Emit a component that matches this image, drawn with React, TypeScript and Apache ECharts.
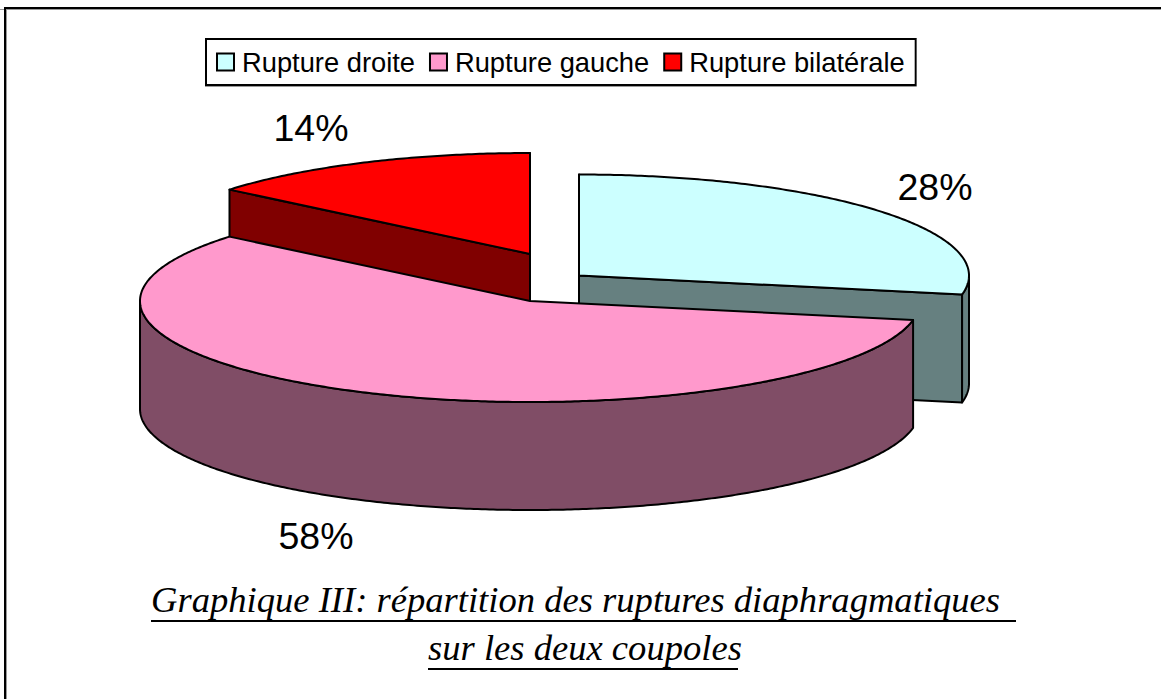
import React, { useEffect, useRef } from "react";
import * as echarts from "echarts";

const categories = ["Rupture droite", "Rupture gauche", "Rupture bilatérale"];
const values = [28, 58, 14];
const topColors = ["#CCFFFF", "#FF99CC", "#FF0000"];
const wallColors = ["#668080", "#804D66", "#800000"];
const titleLines = ["Graphique III: répartition des ruptures diaphragmatiques ", "sur les deux coupoles"];

const W = 1161;
const H = 699;
const RX = 390;
const RY = 101;
const DEPTH = 108;
const centers = [[579, 275.5], [530, 301], [530, 254]];
const labelPositions = [[935, 187], [316, 536], [311, 128]];
const paintOrder = [2, 0, 1];
const total = values.reduce((a, b) => a + b, 0);

const ink = { stroke: "#000", lineWidth: 2, lineJoin: "round" as const };

function arc(cx: number, cy: number, a0: number, a1: number) {
  const n = Math.max(2, Math.ceil(Math.abs(a1 - a0) / 0.01));
  const pts: number[][] = [];
  for (let i = 0; i <= n; i++) {
    const a = a0 + ((a1 - a0) * i) / n;
    pts.push([cx + RX * Math.sin(a), cy - RY * Math.cos(a)]);
  }
  return pts;
}

function makeRenderItem(index: number) {
  return (_params: any, api: any) => {
    const before = values.slice(0, index).reduce((a, b) => a + b, 0);
    const value = api.value(0) as number;
    const a0 = (before / total) * Math.PI * 2;
    const a1 = ((before + value) / total) * Math.PI * 2;
    const [cx, cy] = centers[index];
    const children: any[] = [];
    const wall = wallColors[index];
    const radial = (a: number) => {
      const e = arc(cx, cy, a, a)[0];
      children.push({
        type: "polygon",
        shape: { points: [[cx, cy], e, [e[0], e[1] + DEPTH], [cx, cy + DEPTH]] },
        style: { fill: wall, ...ink },
      });
    };
    if (Math.sin(a0) < 1e-6) radial(a0);
    if (Math.sin(a1) > -1e-6) radial(a1);
    // visible part of the outer rim: the half turn facing the viewer
    const f0 = Math.max(a0, Math.PI / 2);
    const f1 = Math.min(a1, (Math.PI * 3) / 2);
    if (f1 > f0) {
      const upper = arc(cx, cy, f0, f1);
      const lower = upper.map((p) => [p[0], p[1] + DEPTH]).reverse();
      children.push({
        type: "polygon",
        shape: { points: [...upper, ...lower] },
        style: { fill: wall, ...ink },
      });
    }
    children.push({
      type: "polygon",
      shape: { points: [[cx, cy], ...arc(cx, cy, a0, a1)] },
      style: { fill: topColors[index], ...ink },
    });
    const [lx, ly] = labelPositions[index];
    children.push({
      type: "text",
      style: {
        text: `${Math.round((value / total) * 100)}%`,
        x: lx,
        y: ly,
        align: "center",
        verticalAlign: "middle",
        fill: "#000",
        font: "37.5px 'Liberation Sans', Arial, sans-serif",
      },
    });
    return { type: "group", children };
  };
}

export default function App() {
  const ref = useRef<HTMLDivElement>(null);
  useEffect(() => {
    document.body.style.margin = "0";
    const chart = echarts.init(ref.current!, null, { renderer: "svg" });
    const titleFont = {
      fontFamily: "'Liberation Serif', 'Times New Roman', serif",
      fontStyle: "italic" as const,
      fontWeight: "normal" as const,
      fontSize: 36.6,
      color: "#000",
    };
    chart.setOption({
      animation: false,
      backgroundColor: "#fff",
      title: [
        { text: titleLines[0], left: 151, top: 581, padding: 0, textStyle: titleFont },
        { text: titleLines[1], left: 428, top: 629, padding: 0, textStyle: titleFont },
      ],
      legend: {
        left: 206,
        top: 39,
        padding: [9.5, 11, 9.5, 10],
        itemWidth: 17,
        itemHeight: 17,
        itemGap: 14,
        selectedMode: false,
        backgroundColor: "#fff",
        borderColor: "#000",
        borderWidth: 2,
        shadowColor: "#999",
        shadowOffsetY: 1,
        shadowBlur: 0,
        textStyle: {
          fontFamily: "'Liberation Sans', Arial, sans-serif",
          fontSize: 27.3,
          color: "#000",
          padding: [0, 0, 0, 3],
        },
        data: categories.map((name, i) => ({
          name,
          icon: "rect",
          itemStyle: { color: topColors[i], borderColor: "#000", borderWidth: 2 },
        })),
      },
      series: paintOrder.map((i) => ({
        type: "custom",
        name: categories[i],
        coordinateSystem: "none",
        silent: true,
        itemStyle: { color: topColors[i] },
        data: [[values[i]]],
        encode: { value: 0 },
        renderItem: makeRenderItem(i),
      })),
      graphic: [
        { type: "line", shape: { x1: 0, y1: 9.5, x2: W, y2: 9.5 }, style: { stroke: "#999", lineWidth: 1 } },
        { type: "line", shape: { x1: 6.5, y1: 8, x2: 6.5, y2: H }, style: { stroke: "#999", lineWidth: 1 } },
        { type: "polyline", shape: { points: [[5, H], [5, 8], [W, 8]] }, style: { stroke: "#000", lineWidth: 2, fill: "none" } },
        { type: "line", shape: { x1: 151, y1: 621, x2: 1016, y2: 621 }, style: { stroke: "#000", lineWidth: 2 } },
        { type: "line", shape: { x1: 428, y1: 669, x2: 738, y2: 669 }, style: { stroke: "#000", lineWidth: 2 } },
      ],
    });
    return () => chart.dispose();
  }, []);
  return <div ref={ref} style={{ width: W, height: H }} />;
}
